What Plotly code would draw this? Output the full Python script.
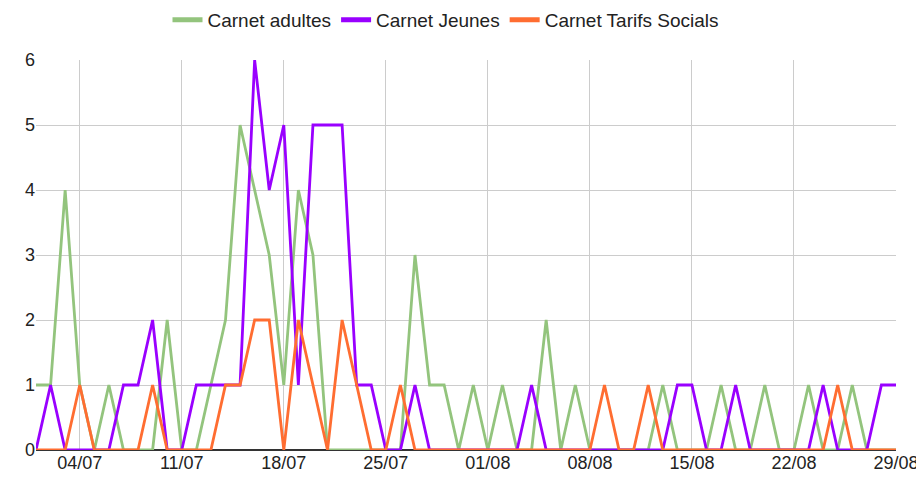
import plotly.graph_objects as go
import pandas as pd

dates = pd.date_range("2023-07-01", "2023-08-29", freq="D")

adultes = [1, 1, 4, 1, 0, 1, 0, 0, 0, 2,
           0, 0, 1, 2, 5, 4, 3, 1, 4, 3,
           0, 0, 0, 0, 0, 0, 3, 1, 1, 0,
           1, 0, 1, 0, 0, 2, 0, 1, 0, 0,
           0, 0, 0, 1, 0, 0, 0, 1, 0, 0,
           1, 0, 0, 1, 0, 0, 1, 0, 0, 0]
jeunes = [0, 1, 0, 0, 0, 0, 1, 1, 2, 0,
          0, 1, 1, 1, 1, 6, 4, 5, 1, 5,
          5, 5, 1, 1, 0, 0, 1, 0, 0, 0,
          0, 0, 0, 0, 1, 0, 0, 0, 0, 0,
          0, 0, 0, 0, 1, 1, 0, 0, 1, 0,
          0, 0, 0, 0, 1, 0, 0, 0, 1, 1]
sociaux = [0, 0, 0, 1, 0, 0, 0, 0, 1, 0,
           0, 0, 0, 1, 1, 2, 2, 0, 2, 1,
           0, 2, 1, 0, 0, 1, 0, 0, 0, 0,
           0, 0, 0, 0, 0, 0, 0, 0, 0, 1,
           0, 0, 1, 0, 0, 0, 0, 0, 0, 0,
           0, 0, 0, 0, 0, 1, 0, 0, 0, 0]

series = [("Carnet adultes", adultes, "#93c47d"),
          ("Carnet Jeunes", jeunes, "#9900ff"),
          ("Carnet Tarifs Socials", sociaux, "#ff6d31")]

fig = go.Figure()
for name, vals, col in series:
    fig.add_trace(go.Scatter(x=dates, y=vals, mode="lines", name=name,
                             line=dict(color=col, width=2.8),
                             legendgroup=name, showlegend=False))
# legend swatches (thicker, like the original's bars)
for name, vals, col in series:
    fig.add_trace(go.Scatter(x=[None], y=[None], mode="lines", name=name,
                             line=dict(color=col, width=5),
                             legendgroup=name, showlegend=True))

# the page body adds an 8px offset; size the figure so the visible frame is 924x480
W, H, OFF = 916, 472, 8

fig.update_layout(
    width=W, height=H,
    margin=dict(l=36 - OFF, r=924 - 896 - OFF + 8, t=60 - OFF, b=30, autoexpand=False),
    plot_bgcolor="white", paper_bgcolor="white",
    font=dict(family="Liberation Sans, Arial, sans-serif", size=18, color="#222222"),
    legend=dict(orientation="h", x=(446 - OFF) / W, xanchor="center", xref="container",
                y=1 - (20 - OFF) / H, yanchor="middle", yref="container",
                font=dict(size=19, color="#222222"),
                itemwidth=30, tracegroupgap=0),
    showlegend=True,
)
fig.update_xaxes(
    type="date",
    range=[dates[0], dates[-1]],
    tick0="2023-07-04", dtick=7 * 24 * 3600 * 1000,
    tickformat="%d/%m",
    showgrid=True, gridcolor="#cccccc", gridwidth=1,
    showline=False, zeroline=False, ticks="", automargin=False,
    tickfont=dict(size=18, color="#222222"),
)
fig.update_yaxes(
    range=[0, 6], dtick=1,
    showgrid=True, gridcolor="#cccccc", gridwidth=1,
    zeroline=True, zerolinecolor="#333333", zerolinewidth=1.5,
    showline=False, ticks="", automargin=False,
    tickfont=dict(size=18, color="#222222"),
)

fig.write_html("out.html")
